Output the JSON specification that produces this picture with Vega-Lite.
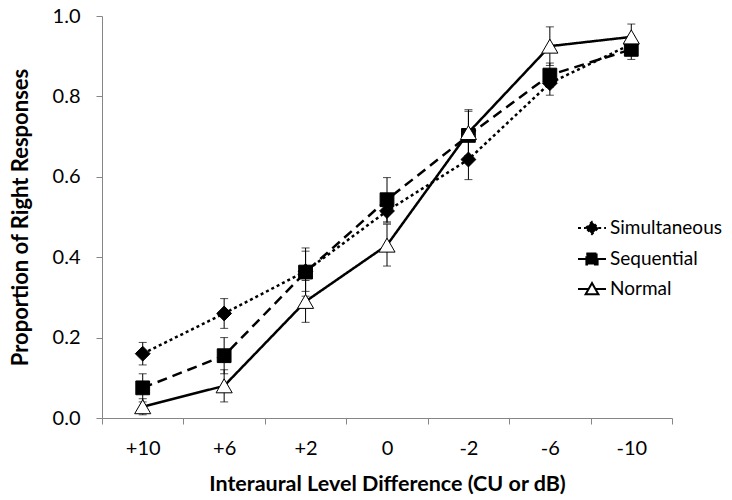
{
  "$schema": "https://vega.github.io/schema/vega-lite/v6.json",
  "width": 570,
  "height": 402,
  "autosize": {"type": "none"},
  "padding": {"left": 102, "top": 16, "right": 60, "bottom": 82},
  "background": "white",
  "config": {
    "view": {"stroke": null},
    "font": "Lato",
    "axis": {
      "domainColor": "#868686",
      "tickColor": "#868686",
      "labelColor": "black",
      "titleColor": "black",
      "titleFontWeight": "bold",
      "grid": false,
      "tickSize": 6,
      "labelFont": "Lato",
      "titleFont": "Lato"
    }
  },
  "data": {
    "values": [
      {"s": "Simultaneous", "x": "+10", "v": 0.16, "e": 0.028},
      {"s": "Simultaneous", "x": "+6", "v": 0.26, "e": 0.037},
      {"s": "Simultaneous", "x": "+2", "v": 0.365, "e": 0.05},
      {"s": "Simultaneous", "x": "0", "v": 0.515, "e": 0.03},
      {"s": "Simultaneous", "x": "-2", "v": 0.643, "e": 0.05},
      {"s": "Simultaneous", "x": "-6", "v": 0.833, "e": 0.03},
      {"s": "Simultaneous", "x": "-10", "v": 0.93, "e": 0.02},
      {"s": "Sequential", "x": "+10", "v": 0.075, "e": 0.035},
      {"s": "Sequential", "x": "+6", "v": 0.155, "e": 0.045},
      {"s": "Sequential", "x": "+2", "v": 0.363, "e": 0.06},
      {"s": "Sequential", "x": "0", "v": 0.543, "e": 0.055},
      {"s": "Sequential", "x": "-2", "v": 0.703, "e": 0.06},
      {"s": "Sequential", "x": "-6", "v": 0.853, "e": 0.03},
      {"s": "Sequential", "x": "-10", "v": 0.917, "e": 0.025},
      {"s": "Normal", "x": "+10", "v": 0.028, "e": 0.02},
      {"s": "Normal", "x": "+6", "v": 0.08, "e": 0.04},
      {"s": "Normal", "x": "+2", "v": 0.29, "e": 0.052},
      {"s": "Normal", "x": "0", "v": 0.43, "e": 0.052},
      {"s": "Normal", "x": "-2", "v": 0.71, "e": 0.057},
      {"s": "Normal", "x": "-6", "v": 0.925, "e": 0.048},
      {"s": "Normal", "x": "-10", "v": 0.948, "e": 0.032}
    ]
  },
  "encoding": {
    "x": {
      "field": "x",
      "type": "ordinal",
      "sort": ["+10", "+6", "+2", "0", "-2", "-6", "-10"],
      "scale": {"paddingInner": 0, "paddingOuter": 0},
      "axis": {
        "title": "Interaural Level Difference (CU or dB)",
        "labelAngle": 0,
        "tickBand": "extent",
        "labelFontSize": 20,
        "titleFontSize": 21.5,
        "labelPadding": 14,
        "titlePadding": 15
      }
    }
  },
  "layer": [
    {
      "mark": {"type": "errorbar", "ticks": {"size": 8, "thickness": 1, "color": "black"}, "rule": {"strokeWidth": 1, "color": "black"}},
      "encoding": {
        "y": {"field": "v", "type": "quantitative", "title": "Proportion of Right Responses", "scale": {"domain": [0, 1]}},
        "yError": {"field": "e"},
        "detail": {"field": "s"}
      }
    },
    {
      "mark": {"type": "line", "strokeWidth": 2.5, "color": "black"},
      "encoding": {
        "y": {
          "field": "v",
          "type": "quantitative",
          "title": "Proportion of Right Responses",
          "scale": {"domain": [0, 1]},
          "axis": {"values": [0, 0.2, 0.4, 0.6, 0.8, 1.0], "format": ".1f", "labelFontSize": 20, "titleFontSize": 22, "labelPadding": 16, "titlePadding": 20}
        },
        "strokeDash": {
          "field": "s",
          "type": "nominal",
          "scale": {"domain": ["Simultaneous", "Sequential", "Normal"], "range": [[3, 3], [10, 6], [1, 0]]},
          "legend": {
            "orient": "none",
            "legendX": 475,
            "legendY": 197,
            "title": null,
            "symbolSize": 784,
            "symbolType": {"expr": "datum.value === 'Simultaneous' ? 'M-1,0H-0.44M0.44,0H1M-0.44,0L0,-0.44L0.44,0L0,0.44Z' : datum.value === 'Sequential' ? 'M-1,0H-0.4M0.4,0H1M-0.4,-0.4H0.4V0.4H-0.4Z' : 'M-1,0H-0.26M0.26,0H1M0,-0.42L0.46,0.38H-0.46Z'"},
            "symbolFillColor": {"expr": "datum.value === 'Normal' ? 'white' : 'black'"},
            "symbolStrokeColor": "black",
            "symbolStrokeWidth": 2,
            "labelFontSize": 19,
            "labelFont": "Lato",
            "labelColor": "black",
            "labelOffset": 3,
            "rowPadding": 5
          }
        }
      }
    },
    {
      "transform": [{"filter": "datum.s === 'Simultaneous'"}],
      "mark": {"type": "point", "shape": "diamond", "filled": true, "fill": "black", "stroke": "black", "strokeWidth": 1, "opacity": 1, "size": 220},
      "encoding": {"y": {"field": "v", "type": "quantitative", "title": "Proportion of Right Responses"}}
    },
    {
      "transform": [{"filter": "datum.s === 'Sequential'"}],
      "mark": {"type": "point", "shape": "square", "filled": true, "fill": "black", "stroke": "black", "strokeWidth": 1, "opacity": 1, "size": 190},
      "encoding": {"y": {"field": "v", "type": "quantitative", "title": "Proportion of Right Responses"}}
    },
    {
      "transform": [{"filter": "datum.s === 'Normal'"}],
      "mark": {"type": "point", "shape": "triangle-up", "filled": true, "fill": "white", "stroke": "black", "strokeWidth": 1, "opacity": 1, "size": 260},
      "encoding": {"y": {"field": "v", "type": "quantitative", "title": "Proportion of Right Responses"}}
    }
  ]
}
